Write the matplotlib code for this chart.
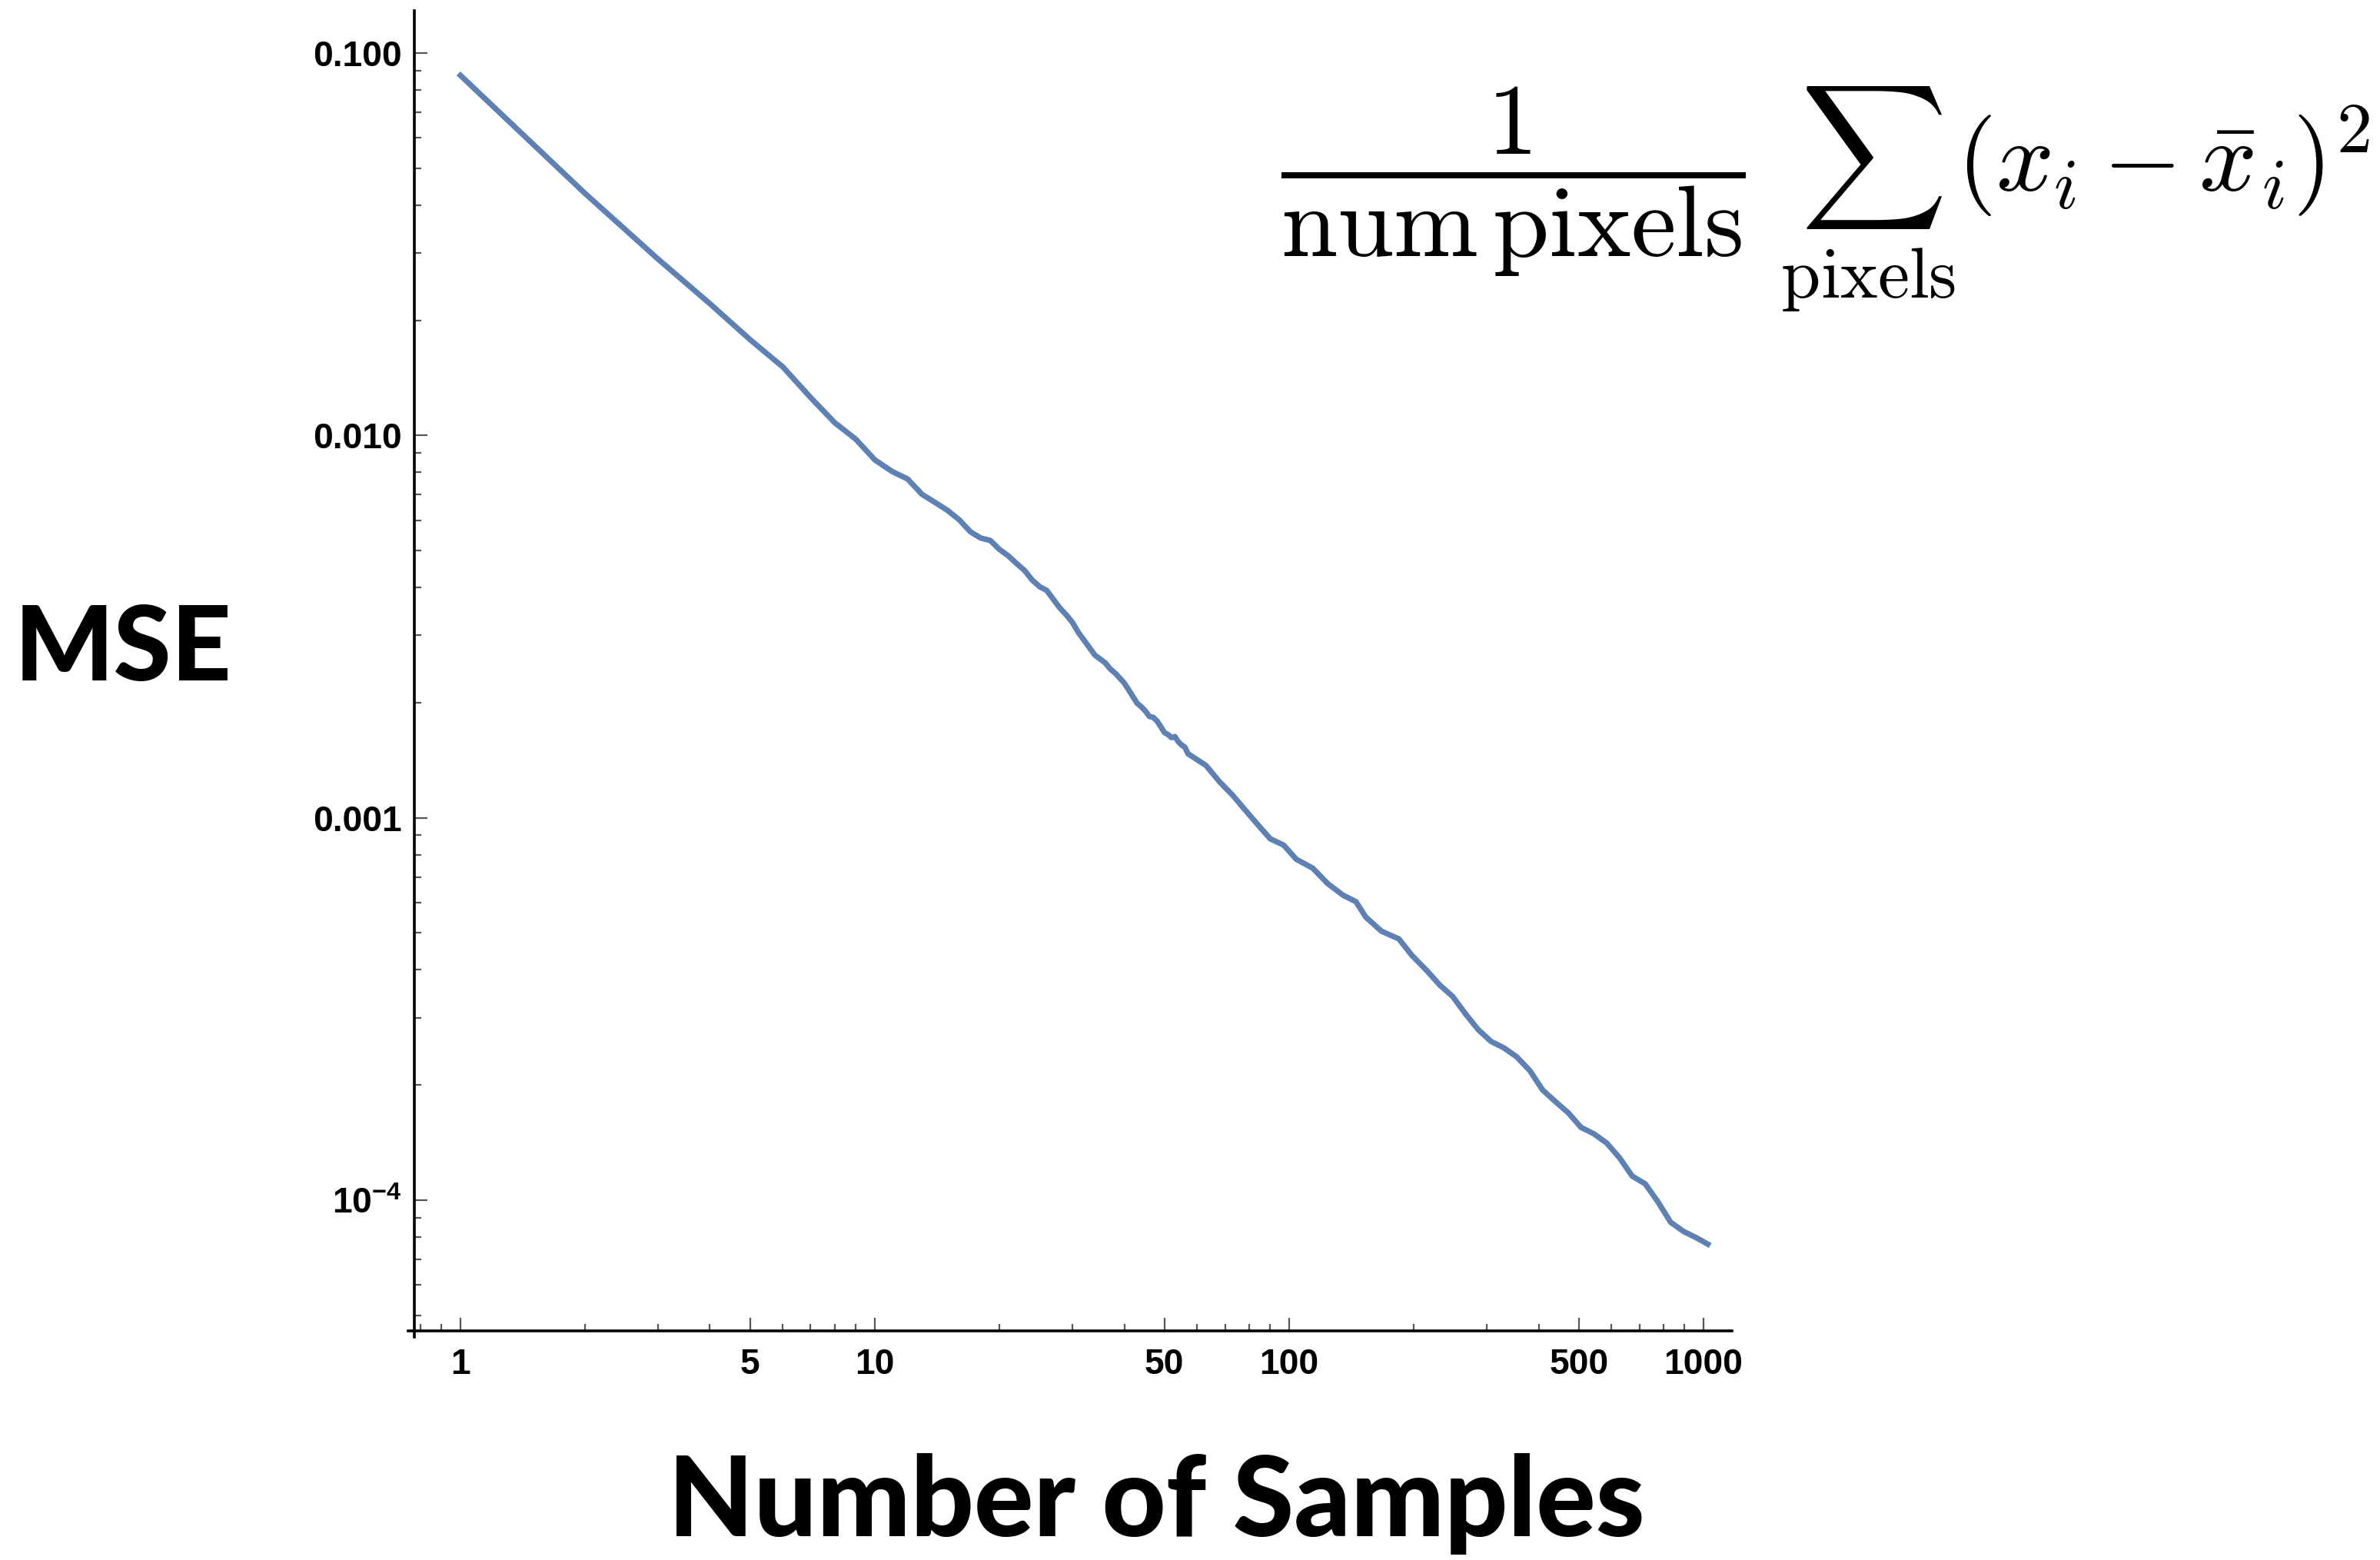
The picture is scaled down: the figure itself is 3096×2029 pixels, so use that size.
import matplotlib
matplotlib.use("Agg")
import matplotlib.pyplot as plt
from matplotlib.ticker import FixedLocator, FixedFormatter, NullFormatter

# ---- data ----
samples = [1, 2, 3, 4, 5, 6, 7, 8, 9, 10, 11, 12, 13, 14, 15, 16, 17, 18, 19, 20,
           21, 22, 23, 24, 25, 26, 27, 28, 29, 30, 31, 32, 33, 34, 35, 36, 37, 38, 39, 40,
           41, 42, 43, 44, 45, 46, 47, 48, 49, 50, 51, 52, 53, 54, 55, 56, 57,
           63, 68, 73, 78, 84, 90, 97, 104, 114, 124, 135, 145, 153, 167, 184, 198,
           215, 231, 248, 267, 286, 307, 330, 354, 381, 409, 439, 472, 506, 544, 584,
           627, 673, 723, 776, 833, 895, 961, 1024]
mse = [0.0874, 0.0429, 0.0289, 0.0221, 0.0178, 0.0151, 0.01256, 0.0108, 0.00977, 0.00863,
       0.00805, 0.00769, 0.00701, 0.00667, 0.00636, 0.00601, 0.00560, 0.00539, 0.00531, 0.00503,
       0.00484, 0.00462, 0.00443, 0.00418, 0.00402, 0.00393, 0.00372, 0.00353, 0.00339, 0.00324,
       0.00305, 0.00291, 0.00278, 0.00266, 0.00260, 0.00254, 0.00245, 0.00239, 0.00232, 0.00225,
       0.00216, 0.00207, 0.00199, 0.00195, 0.00190, 0.00184, 0.00183, 0.00179, 0.00173, 0.00167,
       0.00165, 0.00162, 0.00163, 0.00158, 0.00155, 0.00153, 0.00147,
       0.00137, 0.00124, 0.001146, 0.001053, 0.000959, 0.000881, 0.000848, 0.000779, 0.000738,
       0.000672, 0.000627, 0.000603, 0.000550, 0.000505, 0.000482, 0.000436,
       0.000398, 0.000365, 0.000341, 0.000306, 0.000279, 0.000260, 0.000250, 0.000237, 0.000218,
       0.000194, 0.000181, 0.000169, 0.000155, 0.000149, 0.000141,
       0.000129, 0.0001155, 0.0001103, 0.0000990, 0.0000875, 0.0000828, 0.0000797, 0.0000767]

x_major = [1, 5, 10, 50, 100, 500, 1000]
x_major_labels = ["1", "5", "10", "50", "100", "500", "1000"]
x_minor = [0.8, 0.9, 2, 3, 4, 6, 7, 8, 9, 20, 30, 40, 60, 70, 80, 90,
           200, 300, 400, 600, 700, 800, 900]
y_major = [1e-4, 1e-3, 1e-2, 1e-1]
y_major_labels = [r"$\mathbf{10^{-4}}$", "0.001", "0.010", "0.100"]
y_minor = [m * d for d in (1e-5, 1e-4, 1e-3, 1e-2) for m in range(2, 10)]

x_label = "Number of Samples"
y_label = "MSE"
formula = r"$\dfrac{1}{\mathrm{num\,pixels}}\;\sum_{\mathrm{pixels}}(x_i-\bar{x}_i)^2$"

# ---- styling ----
plt.rcParams["mathtext.fontset"] = "custom"
plt.rcParams["mathtext.rm"] = "Liberation Sans:bold"
plt.rcParams["mathtext.bf"] = "Liberation Sans:bold"
plt.rcParams["mathtext.it"] = "Liberation Sans:bold"

line_color = "#5E81B5"
tick_color = "#555555"

fig = plt.figure(figsize=(15.48, 10.145), dpi=200)
ax = fig.add_axes([0.1741, 0.1469, 0.7277 - 0.1741, 0.9931 - 0.1469])

ax.plot(samples, mse, color=line_color, lw=2.6, solid_joinstyle="round")

ax.set_xscale("log")
ax.set_yscale("log")
ax.set_xlim(0.774, 1171)
ax.set_ylim(4.55e-5, 0.129)

ax.xaxis.set_major_locator(FixedLocator(x_major))
ax.xaxis.set_major_formatter(FixedFormatter(x_major_labels))
ax.xaxis.set_minor_locator(FixedLocator(x_minor))
ax.xaxis.set_minor_formatter(NullFormatter())
ax.yaxis.set_major_locator(FixedLocator(y_major))
ax.yaxis.set_major_formatter(FixedFormatter(y_major_labels))
ax.yaxis.set_minor_locator(FixedLocator(y_minor))
ax.yaxis.set_minor_formatter(NullFormatter())

for s in ("top", "right"):
    ax.spines[s].set_visible(False)
for s in ("left", "bottom"):
    ax.spines[s].set_linewidth(1.3)
    ax.spines[s].set_color("black")

ax.tick_params(which="major", direction="in", length=6.1, width=0.8, color=tick_color)
ax.tick_params(which="minor", direction="in", length=3.1, width=0.8, color=tick_color)
ax.tick_params(axis="x", which="major", pad=8)
ax.tick_params(axis="y", which="major", pad=6)
for lab in ax.get_xticklabels() + ax.get_yticklabels():
    lab.set_fontfamily("Liberation Sans")
    lab.set_fontweight("bold")
    lab.set_fontsize(16.6)

# small overhang where the axes cross (Mathematica style)
ax.plot([-0.0047, 0], [0, 0], transform=ax.transAxes, color="black", lw=1.3, clip_on=False)
ax.plot([0, 0], [-0.0047, 0], transform=ax.transAxes, color="black", lw=1.3, clip_on=False)

fig.text(0.0518, 0.5638, y_label, ha="center", va="baseline",
         family=["Lato", "DejaVu Sans"], fontweight=900, fontsize=49)
fig.text(0.486, 0.0153, x_label, ha="center", va="baseline",
         family=["Lato", "DejaVu Sans"], fontweight=900, fontsize=52)

fig.text(0.538, 0.8773, formula, fontsize=47.5, math_fontfamily="cm",
         ha="left", va="baseline")

fig.savefig("out.png", dpi=200, facecolor="white")
